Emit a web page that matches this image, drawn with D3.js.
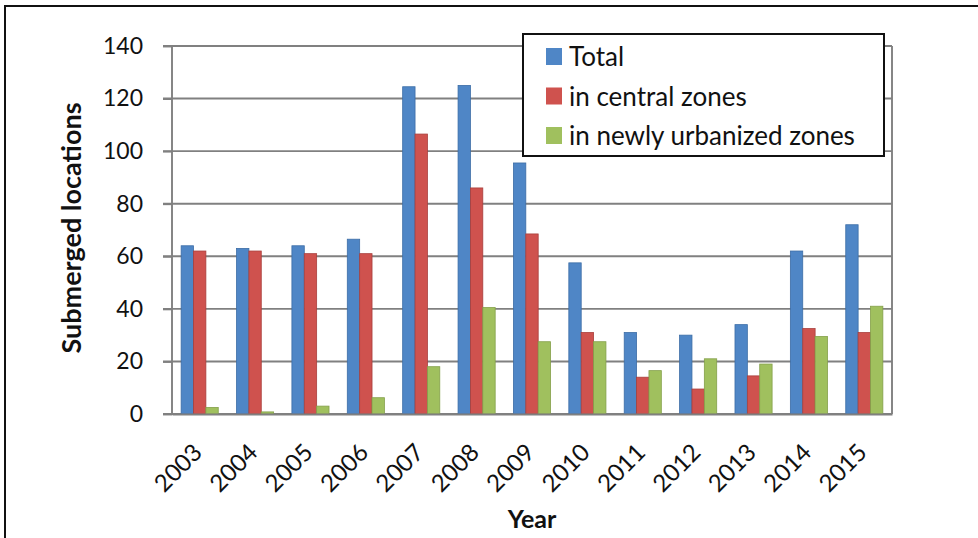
<!DOCTYPE html>
<html>
<head>
<meta charset="utf-8">
<script src="https://cdn.jsdelivr.net/npm/d3@7"></script>
<style>
  body { margin: 0; background: #fff; }
  svg { display: block; font-family: Lato, "Open Sans", sans-serif; }
</style>
</head>
<body>
<svg class="chart"></svg>
<script>
var years = ["2003", "2004", "2005", "2006", "2007", "2008", "2009",
             "2010", "2011", "2012", "2013", "2014", "2015"];
var total   = [64, 63, 64, 66.5, 124.5, 125, 95.5, 57.5, 31, 30, 34, 62, 72];
var central = [62, 62, 61, 61, 106.5, 86, 68.5, 31, 14, 9.5, 14.5, 32.5, 31];
var newly   = [2.5, 0.8, 3, 6.2, 18, 40.5, 27.5, 27.5, 16.5, 21, 19, 29.5, 41];
var seriesNames = ["Total", "in central zones", "in newly urbanized zones"];
var yTicks = [0, 20, 40, 60, 80, 100, 120, 140];

var colors = ["#4f86c6", "#cf524e", "#a0c05e"];
var strokes = ["#3c6da6", "#a93f3c", "#84a04a"];

var W = 978, H = 538;
var margin = {top: 46, right: 86, bottom: 124, left: 172},
    width = W - margin.left - margin.right,
    height = H - margin.top - margin.bottom;

var svg = d3.select(".chart")
    .attr("width", W)
    .attr("height", H);

// outer frame (only top and left visible)
svg.append("path")
    .attr("d", "M5," + H + "V6H" + W)
    .attr("fill", "none")
    .attr("stroke", "#111")
    .attr("stroke-width", 2);

var chart = svg.append("g")
    .attr("transform", "translate(" + margin.left + "," + margin.top + ")");

var x0 = d3.scaleBand()
    .domain(years)
    .range([0, width])
    .paddingInner(0.33)
    .paddingOuter(0.165);

var x1 = d3.scaleBand()
    .domain([0, 1, 2])
    .range([0, x0.bandwidth()]);

var y = d3.scaleLinear()
    .domain([0, 140])
    .range([height, 0]);

// gridlines
chart.append("g")
    .attr("class", "grid")
  .selectAll("line")
    .data(yTicks)
  .enter().append("line")
    .attr("x1", -9)
    .attr("x2", width)
    .attr("y1", function(d) { return y(d); })
    .attr("y2", function(d) { return y(d); })
    .attr("stroke", "#808080")
    .attr("stroke-width", 1.9);

// right edge of plot area
chart.append("line")
    .attr("x1", width).attr("x2", width)
    .attr("y1", 0).attr("y2", height)
    .attr("stroke", "#808080")
    .attr("stroke-width", 1.9);

var rows = years.map(function(yr, i) {
  return {year: yr, values: [total[i], central[i], newly[i]]};
});

var group = chart.selectAll("g.year")
    .data(rows)
  .enter().append("g")
    .attr("class", "year")
    .attr("transform", function(d) { return "translate(" + x0(d.year) + ",0)"; });

group.selectAll("rect")
    .data(function(d) { return d.values; })
  .enter().append("rect")
    .attr("x", function(d, i) { return x1(i); })
    .attr("y", function(d) { return y(d); })
    .attr("width", x1.bandwidth())
    .attr("height", function(d) { return height - y(d); })
    .attr("fill", function(d, i) { return colors[i]; })
    .attr("stroke", function(d, i) { return strokes[i]; })
    .attr("stroke-width", 0.8);

// y axis
var yAxis = d3.axisLeft(y)
    .tickValues(yTicks)
    .tickSize(9)
    .tickPadding(20);

chart.append("g")
    .attr("class", "y axis")
    .call(yAxis)
    .call(function(g) {
      g.selectAll("path, line").attr("stroke", "#808080").attr("stroke-width", 1.9);
      g.select(".domain").attr("d", "M0," + height + "V0");
      g.selectAll("text")
          .attr("fill", "#111")
          .style("font-size", "23px")
          .style("font-family", "Lato, sans-serif");
    });

// x axis
var xAxis = d3.axisBottom(x0).tickSize(0).tickPadding(0);

chart.append("g")
    .attr("class", "x axis")
    .attr("transform", "translate(0," + height + ")")
    .call(xAxis)
    .call(function(g) {
      g.select(".domain").attr("stroke", "#808080").attr("stroke-width", 1.9);
      g.selectAll("text")
          .attr("fill", "#111")
          .attr("text-anchor", "end")
          .attr("dy", 0)
          .attr("y", 0)
          .attr("transform", "translate(4,40) rotate(-45)")
          .style("font-size", "24px")
          .style("font-family", "Lato, sans-serif");
    });

// axis titles
svg.append("text")
    .attr("x", 532)
    .attr("y", 528)
    .attr("text-anchor", "middle")
    .attr("fill", "#111")
    .style("font-size", "25px")
    .style("font-weight", "bold")
    .text("Year");

svg.append("text")
    .attr("transform", "translate(81,228) rotate(-90)")
    .attr("text-anchor", "middle")
    .attr("fill", "#111")
    .style("font-size", "27px")
    .style("font-weight", "bold")
    .text("Submerged locations");

// legend
var legend = svg.append("g")
    .attr("class", "legend")
    .attr("transform", "translate(523,34)");

legend.append("rect")
    .attr("width", 361)
    .attr("height", 122)
    .attr("fill", "#fff")
    .attr("stroke", "#111")
    .attr("stroke-width", 2);

var item = legend.selectAll("g.item")
    .data(seriesNames)
  .enter().append("g")
    .attr("class", "item")
    .attr("transform", function(d, i) { return "translate(23," + (14 + i * 39.5) + ")"; });

item.append("rect")
    .attr("width", 16)
    .attr("height", 17)
    .attr("fill", function(d, i) { return colors[i]; });

item.append("text")
    .attr("x", 23)
    .attr("y", 18)
    .attr("fill", "#111")
    .style("font-size", "26px")
    .text(function(d) { return d; });
</script>
</body>
</html>
